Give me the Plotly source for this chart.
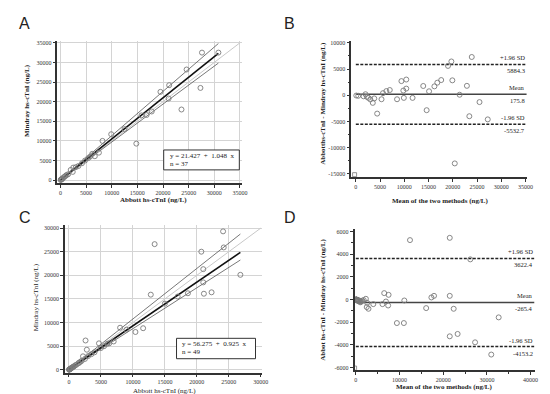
import plotly.graph_objects as go

# ---------------- data ----------------
A_x = [27600, 30800, 24600, 21200, 19500, 27300, 23600, 21100, 17800, 16800, 14800, 9900, 8200, 7500, 6700,
       5400, 2500, 2000, 2400, 1500, 1000, 600, 400, 200, 100, 50, 3000, 3500, 4200, 4800, 5800, 6200, 1200,
       800, 300, 12500, 15800]
A_y = [32500, 32500, 28200, 24200, 22500, 23500, 18000, 20800, 17500, 16600, 9300, 11700, 10000, 7000, 6100,
       5600, 3200, 2600, 2100, 1500, 1100, 700, 350, 250, 100, 60, 3300, 3600, 4300, 5000, 6000, 6700, 1300,
       850, 300, 13000, 16500]
A_fit = [21.427, 1.048]          # intercept, slope
A_ci_slopes = [1.13, 0.968]      # upper / lower band slopes

B_x = [23900, 19700, 19000, 19900, 17600, 16800, 16200, 13900, 15100, 10400, 9400, 10400, 9800, 7000, 6300,
       5600, 5300, 8500, 9900, 11700, 14600, 4400, 3500, 3800, 2600, 2000, 1600, 500, 100, 21400, 22900,
       25500, 23400, 27200, 20400, 2300, 3000]
B_y = [7300, 6450, 5600, 2850, 2900, 2400, 1700, 1770, 760, 3000, 2700, 1270, 900, 1000, 800, 400, -760,
       -760, -500, -500, -2850, -3500, -1450, -600, -500, 200, -200, -100, -50, 100, 1800, -1300, -4000,
       -4600, -13000, -300, -800]
B_stats = [5884.3, 175.8, -5532.7]   # +1.96SD, mean, -1.96SD
B_corner = [[-250], [-15150]]

C_x = [24100, 24200, 13400, 20700, 21000, 26800, 21100, 22300, 12800, 18600, 11600, 10400, 8000, 2600, 2800,
       4700, 7000, 6300, 2200, 21000, 15000, 17000, 9000, 5500, 3500, 3000, 2500, 2000, 1800, 1500, 1200,
       1000, 800, 600, 500, 400, 300, 200, 150, 100, 80, 50, 30, 4000, 5000, 6000, 1600, 700, 350]
C_y = [29300, 25900, 26600, 25000, 21300, 20100, 16100, 16400, 15900, 16200, 8800, 8000, 8900, 6200, 4250,
       5600, 6000, 5600, 2850, 18500, 14000, 15500, 8500, 5000, 3300, 2900, 2300, 1900, 1700, 1400, 1100,
       950, 750, 550, 480, 380, 280, 180, 140, 90, 70, 50, 30, 3700, 4600, 5500, 1500, 650, 320]
C_fit = [56.275, 0.925]
C_ci_slopes = [1.07, 0.865]

D_x = [12400, 21500, 26200, 6500, 7500, 17300, 17900, 21500, 11100, 16100, 22400, 32700, 9400, 11000, 21500,
       23300, 27300, 31000, 2300, 2500, 2900, 2600, 4000, 6100, 6900, 7400, 300, 500, 800, 1200, 100, 200,
       400, 600, 700, 1000, 1500, 1800, 150, 250, 350, 450, 900, 1100, 50, 80, 120, 180, 220]
D_y = [5240, 5440, 3540, 560, 410, 180, 320, 320, -90, -760, -820, -1580, -2080, -2080, -3250, -3040, -3780,
       -4860, 60, -670, -820, -300, -410, -410, -180, -530, -50, -100, -150, -200, 0, -30, -80, -60, -120,
       -250, -100, -50, -20, -40, -70, -90, -110, -160, 10, -10, -30, -20, -60]
D_stats = [3622.4, -265.4, -4153.2]
D_corner = [[-280], [-6050]]

A_ticks = [0, 5000, 10000, 15000, 20000, 25000, 30000, 35000]
B_xticks = [0, 5000, 10000, 15000, 20000, 25000, 30000, 35000]
B_yticks = [-15000, -10000, -5000, 0, 5000, 10000]
C_ticks = [0, 5000, 10000, 15000, 20000, 25000, 30000]
D_xticks = [0, 10000, 20000, 30000, 40000]
D_yticks = [-6000, -4000, -2000, 0, 2000, 4000, 6000]

SERIF = "Liberation Serif"
W, H = 550, 394

fig = go.Figure()

marker = dict(symbol="circle-open", size=5, color="#7a7a7a", line=dict(width=0.9, color="#7a7a7a"))


def add_regression(xs, ys, fit, ci, ident_max, xa, ya):
    xmax = max(xs)
    fig.add_trace(go.Scatter(x=[0, ident_max], y=[0, ident_max], mode="lines",
                             line=dict(color="#c8c8c8", width=1), xaxis=xa, yaxis=ya, hoverinfo="skip"))
    for s in ci:
        fig.add_trace(go.Scatter(x=[0, xmax], y=[fit[0], fit[0] + s * xmax], mode="lines",
                                 line=dict(color="#555555", width=0.8), xaxis=xa, yaxis=ya, hoverinfo="skip"))
    fig.add_trace(go.Scatter(x=[0, xmax], y=[fit[0], fit[0] + fit[1] * xmax], mode="lines",
                             line=dict(color="#111111", width=1.6), xaxis=xa, yaxis=ya, hoverinfo="skip"))
    fig.add_trace(go.Scatter(x=xs, y=ys, mode="markers", marker=marker, xaxis=xa, yaxis=ya))


add_regression(A_x, A_y, A_fit, A_ci_slopes, 35000, "x", "y")
add_regression(C_x, C_y, C_fit, C_ci_slopes, 30000, "x3", "y3")


def add_ba(xs, ys, stats, corner, xa, ya, xend):
    for i, v in enumerate(stats):
        fig.add_trace(go.Scatter(x=[0, xend], y=[v, v], mode="lines",
                                 line=dict(color="#222222" if i != 1 else "#444444", width=1.5,
                                           dash="3px,1.5px" if i != 1 else "solid"),
                                 xaxis=xa, yaxis=ya, hoverinfo="skip"))
    fig.add_trace(go.Scatter(x=xs, y=ys, mode="markers", marker=marker, xaxis=xa, yaxis=ya))
    fig.add_trace(go.Scatter(x=corner[0], y=corner[1], mode="markers",
                             marker=dict(symbol="square-open", size=4, color="#777", line=dict(width=0.8)),
                             xaxis=xa, yaxis=ya, hoverinfo="skip"))


add_ba(B_x, B_y, B_stats, B_corner, "x2", "y2", 35200)
add_ba(D_x, D_y, D_stats, D_corner, "x4", "y4", 40900)

tickfont = dict(family=SERIF, size=6, color="#333")


def axis(domain, rng, ticks, grid, anchor, minor=None, ticklen=3):
    d = dict(domain=domain, range=rng, tickvals=ticks, ticktext=[str(t) for t in ticks],
             showgrid=grid, gridcolor="#d4d4d4", gridwidth=0.8, zeroline=False,
             showline=True, linecolor="#333", linewidth=1.5, ticks="outside", ticklen=ticklen,
             tickcolor="#333", tickwidth=1, tickfont=tickfont, anchor=anchor, fixedrange=True)
    if minor:
        d["minor"] = dict(dtick=minor, ticks="outside", ticklen=2, tickcolor="#333", showgrid=False)
    return d


fig.update_layout(
    width=W, height=H, margin=dict(l=0, r=0, t=0, b=0),
    paper_bgcolor="white", plot_bgcolor="white", showlegend=False,
    xaxis=axis([50 / W, 237 / W], [-600, 35400], A_ticks, True, "y"),
    yaxis=axis([1 - 175 / H, 1 - 31.7 / H], [-760, 35580], A_ticks, True, "x"),
    xaxis2=axis([347.7 / W, 525.7 / W], [-936, 35290], B_xticks, False, "y2"),
    yaxis2=axis([1 - 169 / H, 1 - 31.7 / H], [-15620, 10440], B_yticks, False, "x2", minor=2500),
    xaxis3=axis([57.7 / W, 257 / W], [-617, 30140], C_ticks, True, "y3", ticklen=2),
    yaxis3=axis([1 - 366 / H, 1 - 217 / H], [-711, 30670], C_ticks, True, "x3"),
    xaxis4=axis([351 / W, 533.3 / W], [-294, 40900], D_xticks, False, "y4", minor=5000),
    yaxis4=axis([1 - 362.7 / H, 1 - 221 / H], [-6210, 6230], D_yticks, False, "x4", minor=1000),
)

ann = []
titlefont = dict(family=SERIF, size=7, color="#222")


def t(text, x, y, angle=0, font=titlefont, xanchor="center", yanchor="middle", **kw):
    ann.append(dict(text=text, x=x, y=y, xref="paper", yref="paper", showarrow=False,
                    textangle=angle, font=font, xanchor=xanchor, yanchor=yanchor, **kw))


letter_font = dict(family="Liberation Sans", size=16, color="#222")
t("A", 17 / W, 1 - 15 / H, font=letter_font)
t("B", 285 / W, 1 - 15 / H, font=letter_font)
t("C", 17 / W, 1 - 210 / H, font=letter_font)
t("D", 286 / W, 1 - 210 / H, font=letter_font)

t("<b>Abbott hs-cTnI (ng/L)</b>", 147.5 / W, 1 - 192 / H)
t("<b>Mindray hs-cTnI (ng/L)</b>", 19 / W, 1 - 91.7 / H, angle=-90)
t("<b>Mean of the two methods (ng/L)</b>", 438.3 / W, 1 - 193 / H)
t("<b>Abbotths-cTnI - Mindray hs-cTnI (ng/L)</b>", 318.3 / W, 1 - 95 / H, angle=-90)
t("Abbott hs-cTnI (ng/L)", 159 / W, 1 - 383.5 / H)
t("Mindray hs-cTnI (ng/L)", 28.3 / W, 1 - 289.7 / H, angle=-90)
t("<b>Mean of the two methods (ng/L)</b>", 442.3 / W, 1 - 380.3 / H)
t("<b>Abbot hs-cTnI - Mindray hs-cTnI (ng/L)</b>", 318.3 / W, 1 - 292 / H, angle=-90)

boxfont = dict(family=SERIF, size=7, color="#222")
shapes = []
for fit, xs, box, tx, ty1, ty2 in [
    (A_fit, A_x, (157.7, 141.7, 234.3, 161.7), 161.7, 147.7, 155.5),
    (C_fit, C_x, (170.7, 331, 250.7, 351.5), 174.3, 336.9, 345.0),
]:
    shapes.append(dict(type="rect", xref="paper", yref="paper", x0=box[0] / W, x1=box[2] / W,
                       y0=1 - box[3] / H, y1=1 - box[1] / H, line=dict(color="#333", width=1),
                       fillcolor="white", layer="above"))
    t(f"y = {fit[0]:.3f}  +  {fit[1]:.3f}  x", tx / W, 1 - ty1 / H, font=boxfont, xanchor="left")
    t(f"n = {len(xs)}", tx / W, 1 - ty2 / H, font=boxfont, xanchor="left")

lblfont = dict(family=SERIF, size=6.5, color="#222")
for stats, xr, yr in [(B_stats, "x2 domain", "y2"), (D_stats, "x4 domain", "y4")]:
    names = ["+1.96 SD", "Mean", "-1.96 SD"]
    for name, v in zip(names, stats):
        ann.append(dict(text=name, x=1, y=v, xref=xr, yref=yr, showarrow=False, xanchor="right",
                        yanchor="bottom", yshift=1, font=lblfont))
        ann.append(dict(text=f"{v:.1f}", x=1, y=v, xref=xr, yref=yr, showarrow=False, xanchor="right",
                        yanchor="top", yshift=-1, font=lblfont))

fig.update_layout(annotations=ann, shapes=shapes)
fig.write_html("out.html")
